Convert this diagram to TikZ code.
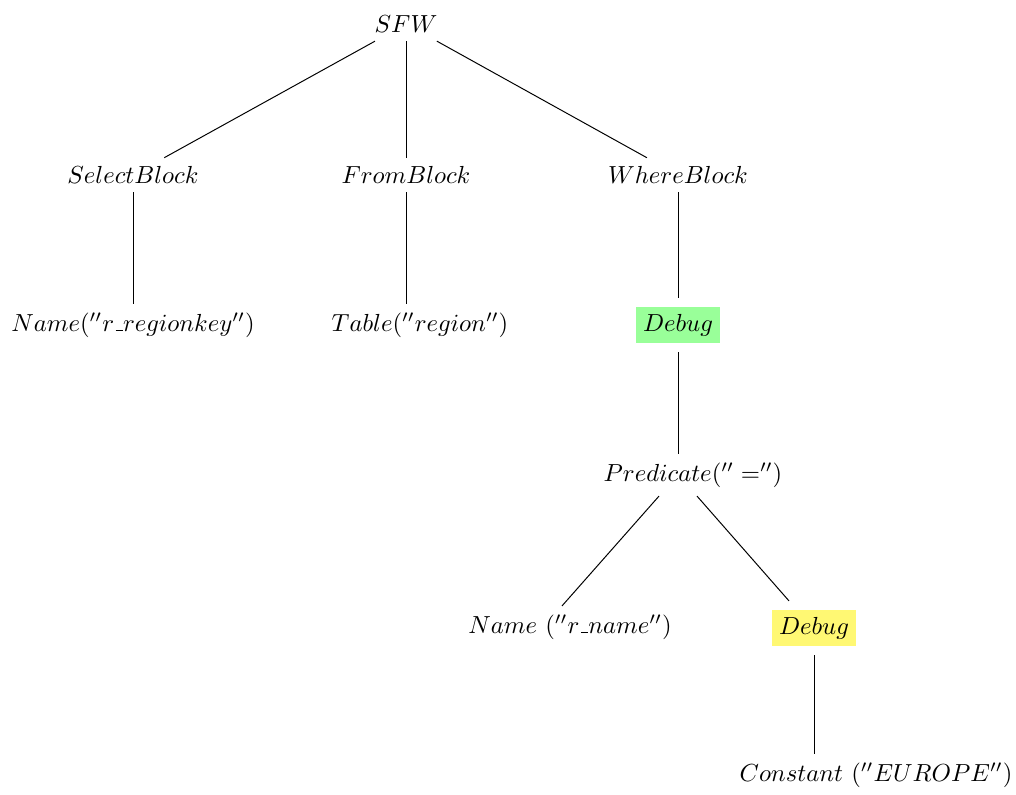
\documentclass[tikz,border=0pt]{standalone}
\usepackage{xcolor}
% short low rule used as the underscore in identifiers
\newcommand{\lowdash}{\mbox{\kern.06em\vbox{\hrule width.3em}}}
\begin{document}
\begin{tikzpicture}[x=0.405pt,y=-0.405pt,
  tn/.style={inner sep=3.33pt},
  edge/.style={draw=black,line width=0.4pt}]
\useasboundingbox (0,0) rectangle (1016,794);

% query tree nodes
\node[tn] (sfw)   at (406,24)  {$SFW$};
\node[tn] (sel)   at (133,175) {$SelectBlock$};
\node[tn] (from)  at (406,175) {$FromBlock$};
\node[tn] (where) at (678,175) {$WhereBlock$};
\node[tn] (n1)    at (133,325) {$Name(''r\lowdash regionkey'')$};
\node[tn] (tb)    at (420,325) {$Table(''region'')$};
\node[tn] (db1)   at (678,325) {\colorbox{green!40}{$Debug$}};
\node[tn] (pred)  at (693,475) {$Predicate(''\;='')$};
\node[tn] (n2)    at (570,627) {$Name\ (''r\lowdash name'')$};
\node[tn] (db2)   at (814,628) {\colorbox{yellow!55}{$Debug$}};
\node[tn] (cst)   at (876,775) {$Constant\ (''EUROPE'')$};

% tree edges
\draw[edge] (sfw) -- (sel);
\draw[edge] (sfw) -- (from);
\draw[edge] (sfw) -- (where);
\draw[edge] (sel) -- (n1);
\draw[edge] (from) -- (from |- tb.north);
\draw[edge] (where) -- (db1);
\draw[edge] (db1) -- (db1 |- pred.north);
\draw[edge] ([shift={(-34,0)}]pred.south) -- ([shift={(-8,0)}]n2.north);
\draw[edge] ([shift={(4,0)}]pred.south) -- ([shift={(-25,0)}]db2.north);
\draw[edge] (db2) -- (db2 |- cst.north);
\end{tikzpicture}
\end{document}
